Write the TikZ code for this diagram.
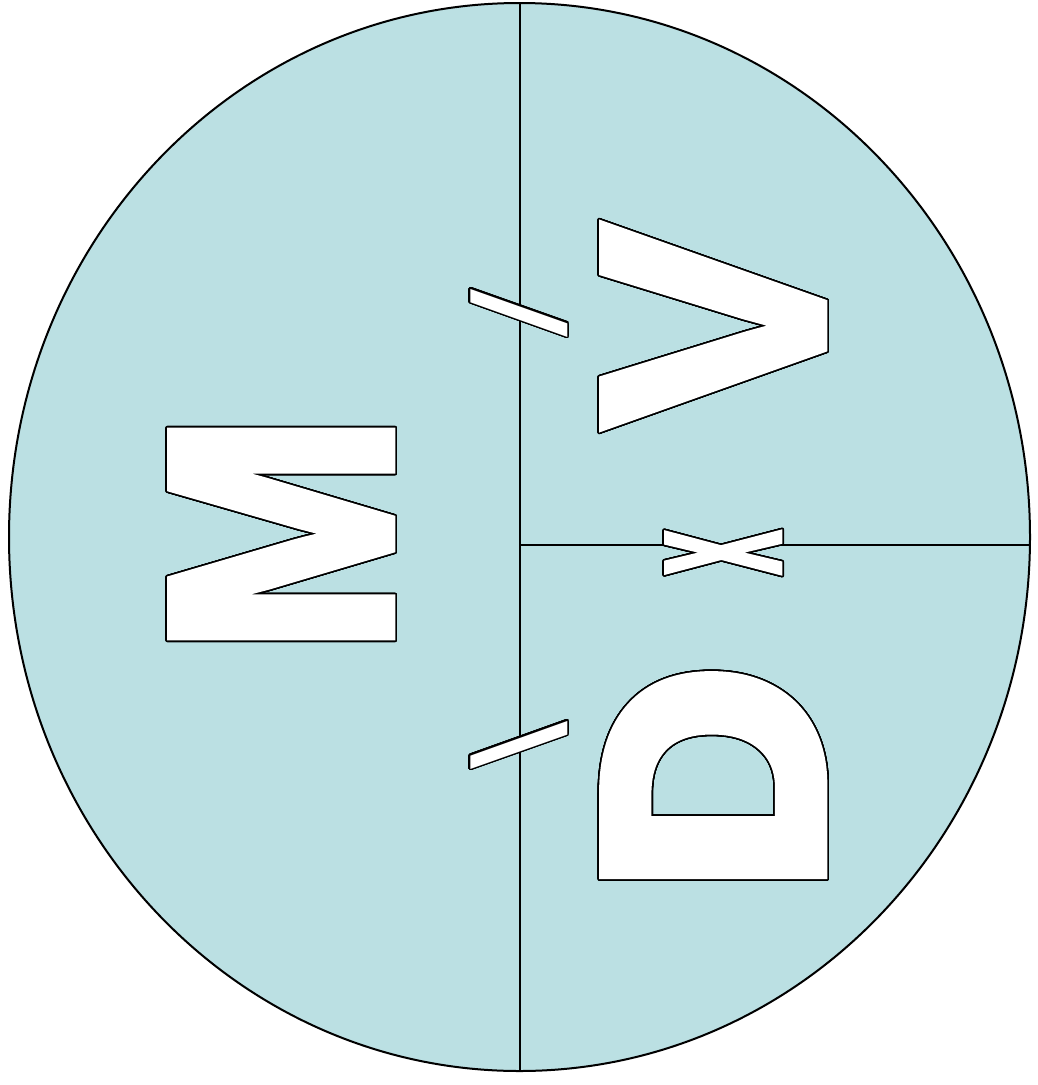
\documentclass[tikz,border=0pt]{standalone}
\usepackage{fontspec}
\setmainfont{Liberation Sans}
\newfontface\heavyface[FakeBold=3]{Liberation Sans Bold}
\newfontface\heavierface[FakeBold=6]{Liberation Sans Bold}
\usepackage{graphicx}
\usepackage{contour}
\usepackage{tikz}
\definecolor{discblue}{RGB}{187,224,227}
\usetikzlibrary{shapes.geometric}
\tikzset{
    disc/.style={ellipse, draw, fill=discblue, line width=2pt, inner sep=0pt},
    rule/.style={line width=2pt},
    glyph/.style={rotate=90, inner sep=0pt, text=white, font=\heavyface\fontsize{100}{100}\selectfont},
    heavyglyph/.style={glyph, font=\heavierface\fontsize{100}{100}\selectfont},
    thinglyph/.style={glyph, font=\mdseries\fontsize{100}{100}\selectfont}
}
\contourlength{1.6pt}
\contournumber{32}
\newcommand{\outl}[3]{\contour{black}{\scalebox{#1}[#2]{#3}}}

\begin{document}
\begin{tikzpicture}[x=1pt, y=-1pt]
  \useasboundingbox (0,0) rectangle (1038,1085);
  \node[disc, minimum width=1021pt, minimum height=1068pt] (disc) at (519.5,537) {};
  \coordinate (mid) at (520,545);
  \coordinate (rim) at (1031,545);
  \draw[rule] (disc.north) -- (disc.south);
  \draw[rule] (mid) -- (rim);
  % letters, turned a quarter
  \node[glyph] (mass) at (282,534) {\outl{2.92}{3.18}{M}};
  \node[glyph] (vol) at (714,326) {\outl{3.06}{3.18}{V}};
  \node[heavyglyph] (dens) at (714,779) {\outl{3.09}{3.05}{D}};
  \node[glyph] (times) at (724,552.5) {\outl{0.775}{2.12}{x}};
  \node[thinglyph] (slashup) at (520,313) {\outl{1.73}{1.32}{/}};
  \node[thinglyph] (slashdown) at (520,745) {\outl{1.73}{1.32}{\textbackslash}};
\end{tikzpicture}
\end{document}
